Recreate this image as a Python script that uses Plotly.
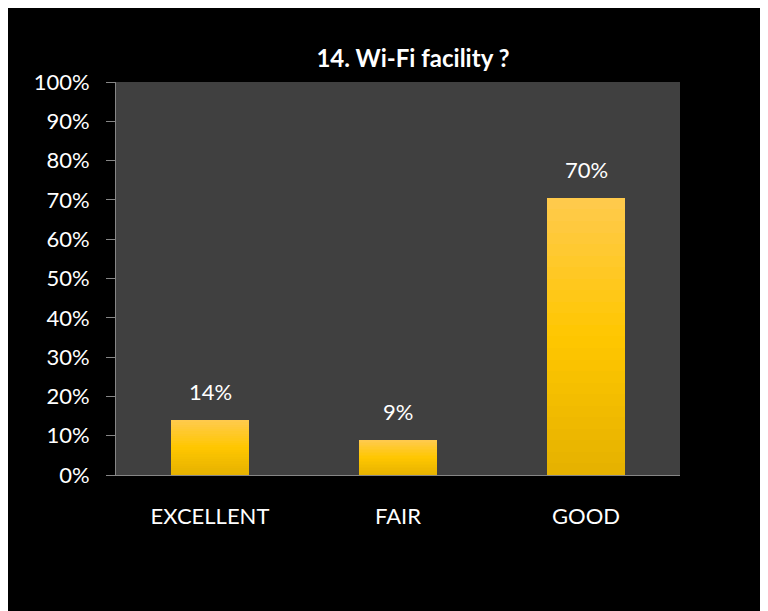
import plotly.graph_objects as go

categories = ["EXCELLENT", "FAIR", "GOOD"]
values = [0.14, 0.09, 0.705]
value_labels = ["14%", "9%", "70%"]
title_text = "14. Wi-Fi facility ?"
y_ticks = [i / 10 for i in range(11)]
y_tick_labels = [f"{i*10}%" for i in range(11)]

W, H = 768, 611
ML, MT = 108, 74
PW, PH = 564, 393
MR, MB = W - ML - PW, H - MT - PH

FONT = "Lato, 'Open Sans', sans-serif"

# vertical gradient colours (top -> bottom) emulating the bar fill
top_c = (255, 202, 75)
mid_c = (255, 199, 0)
bot_c = (230, 178, 0)
N = 24
def lerp(a, b, t):
    return tuple(int(round(a[k] + (b[k] - a[k]) * t)) for k in range(3))
cols = []
for i in range(N):
    t = i / (N - 1)  # 0 = bottom, 1 = top
    if t < 0.5:
        c = lerp(bot_c, mid_c, t / 0.5)
    else:
        c = lerp(mid_c, top_c, (t - 0.5) / 0.5)
    cols.append("rgb(%d,%d,%d)" % c)

fig = go.Figure()
for i in range(N):
    fig.add_trace(go.Bar(
        x=categories, y=[v / N for v in values],
        marker=dict(color=cols[i], line=dict(width=0)),
        showlegend=False, hoverinfo="skip",
    ))

annotations = [
    dict(x=c, y=v, text=t, showarrow=False, xref="x", yref="y",
         yanchor="bottom", yshift=13,
         font=dict(family=FONT, size=22, color="white"))
    for c, v, t in zip(categories, values, value_labels)
]

fig.update_layout(
    width=W, height=H,
    margin=dict(l=ML, r=MR, t=MT, b=MB, pad=0),
    paper_bgcolor="black", plot_bgcolor="#404040",
    barmode="stack", bargap=0.59,
    annotations=annotations,
    title=dict(text="<b>" + title_text + "</b>", x=405 / W, xanchor="center",
               y=1 - 51 / H, yanchor="middle",
               font=dict(family=FONT, size=24, color="white")),
    font=dict(family=FONT, color="white"),
)
fig.update_yaxes(
    range=[0, 1], tickvals=y_ticks, ticktext=y_tick_labels,
    showgrid=False, zeroline=False, showline=True, linecolor="#868686", linewidth=1,
    ticks="outside", ticklen=9, tickcolor="#868686",
    tickfont=dict(family=FONT, size=22, color="white"),
    ticklabelstandoff=12,
)
fig.update_xaxes(
    showgrid=False, showline=True, linecolor="#868686", linewidth=1,
    ticks="", tickfont=dict(family=FONT, size=22, color="white"),
    ticklabelstandoff=22,
)

css_js = (
    "var s=document.createElement('style');"
    "s.textContent='html,body{overflow:hidden !important;}"
    "::-webkit-scrollbar{width:0 !important;height:0 !important;display:none !important;}';"
    "document.head.appendChild(s);"
)
fig.write_html("out.html", post_script=css_js)
